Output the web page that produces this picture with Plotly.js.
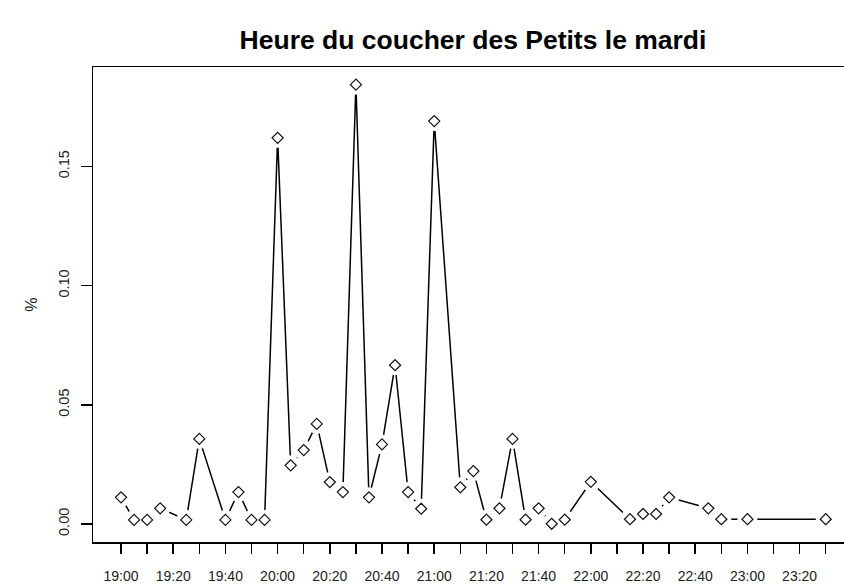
<!DOCTYPE html>
<html>
<head>
<meta charset="utf-8">
<script src="https://cdn.plot.ly/plotly-3.0.1.min.js"></script>
<style>html,body{margin:0;padding:0;background:#fff;}#chart{width:844px;height:586px;}</style>
</head>
<body>
<div id="chart"></div>
<script>
// Heure (mardi) et part des Petits couchés
const heures = ["19:00","19:05","19:10","19:15","19:25","19:30","19:40","19:45","19:50","19:55",
  "20:00","20:05","20:10","20:15","20:20","20:25","20:30","20:35","20:40","20:45",
  "20:50","20:55","21:00","21:10","21:15","21:20","21:25","21:30","21:35","21:40",
  "21:45","21:50","22:00","22:15","22:20","22:25","22:30","22:45","22:50","23:00","23:30"];
const pourcent = [0.0112,0.0017,0.0017,0.0066,0.0017,0.0357,0.0017,0.0134,0.0017,0.0017,
  0.1620,0.0246,0.0310,0.0420,0.0176,0.0134,0.1843,0.0112,0.0334,0.0666,
  0.0134,0.0064,0.1690,0.0154,0.0222,0.0018,0.0066,0.0357,0.0018,0.0066,
  0.0001,0.0018,0.0177,0.0020,0.0042,0.0042,0.0112,0.0066,0.0020,0.0020,0.0020];
const xTicks = ["19:00","19:20","19:40","20:00","20:20","20:40","21:00","21:20","21:40",
  "22:00","22:20","22:40","23:00","23:20"];
const xMinorTicks = ["19:10","19:30","19:50","20:10","20:30","20:50","21:10","21:30","21:50",
  "22:10","22:30","22:50","23:10","23:30"];
const yTicks = [0, 0.05, 0.10, 0.15];
const yTickText = ["0.00","0.05","0.10","0.15"];

const day = "2000-01-01 ";
const xs = heures.map(h => day + h);

const font = "Liberation Sans, Arial, Helvetica, sans-serif";

const traces = [
  {x: xs, y: pourcent, type: "scatter", mode: "lines",
   line: {color: "#000", width: 1.5}, hoverinfo: "skip", showlegend: false},
  // white disks around the points give the gaps of R's type="b"
  {x: xs, y: pourcent, type: "scatter", mode: "markers",
   marker: {symbol: "circle", size: 19, color: "rgba(255,255,255,1)", opacity: 1,
     line: {color: "rgba(255,255,255,1)", width: 1}},
   hoverinfo: "skip", showlegend: false},
  {x: xs, y: pourcent, type: "scatter", mode: "markers",
   marker: {symbol: "diamond-open", size: 8.5, color: "#111", line: {width: 1.2, color: "#111"}},
   showlegend: false}
];

const layout = {
  width: 844, height: 586,
  margin: {l: 93, r: 0, t: 67, b: 44},
  paper_bgcolor: "#fff", plot_bgcolor: "#fff",
  showlegend: false,
  title: {text: "Heure du coucher des Petits le mardi",
    x: 473/844, xref: "container", xanchor: "center",
    y: 1 - 40/586, yref: "container", yanchor: "middle",
    font: {family: font, size: 26.5, color: "#000", weight: 700}},
  xaxis: {
    type: "date",
    range: [day + "18:49:16", day + "23:37:00"],
    tickmode: "array", tickvals: xTicks.map(h => day + h), ticktext: xTicks,
    ticks: "outside", ticklen: 10, tickwidth: 1.5, tickcolor: "#000",
    minor: {tickmode: "array", tickvals: xMinorTicks.map(h => day + h),
      ticks: "outside", ticklen: 10, tickwidth: 1.5, tickcolor: "#000", showgrid: false},
    ticklabelstandoff: 11,
    showline: true, linecolor: "#000", linewidth: 1.5, mirror: true,
    showgrid: false, zeroline: false,
    tickfont: {family: font, size: 14, color: "#222"},
    fixedrange: true
  },
  yaxis: {
    range: [-0.00755, 0.1917],
    tickvals: yTicks, ticktext: yTickText, tickangle: -90,
    ticks: "outside", ticklen: 11, tickwidth: 1.5, tickcolor: "#000",
    ticklabelstandoff: 6,
    showline: true, linecolor: "#000", linewidth: 1.5, mirror: false,
    showgrid: false, zeroline: false,
    tickfont: {family: font, size: 14.5, color: "#222"},
    title: {text: "%", standoff: 14, font: {family: font, size: 16, color: "#222"}},
    fixedrange: true
  }
};

Plotly.newPlot("chart", traces, layout, {displayModeBar: false, staticPlot: true});
</script>
</body>
</html>
